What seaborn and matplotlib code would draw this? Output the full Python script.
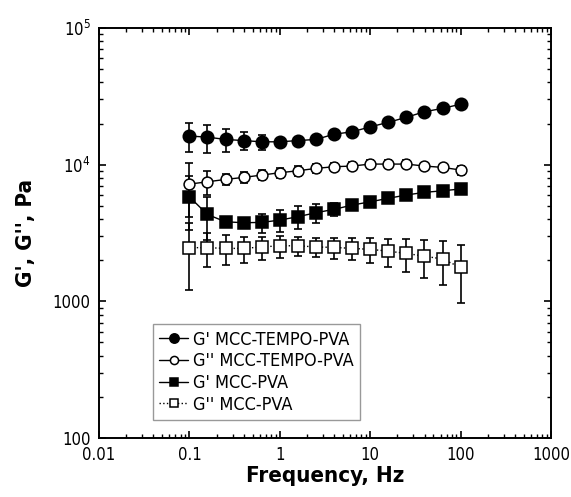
import numpy as np
import pandas as pd
import matplotlib
matplotlib.use("Agg")
import matplotlib.pyplot as plt
import matplotlib.ticker as mticker
import seaborn as sns

# ---- data ----
freq = [0.1, 0.158, 0.251, 0.398, 0.631, 1.0, 1.58, 2.51, 3.98, 6.31,
        10.0, 15.8, 25.1, 39.8, 63.1, 100.0]

g1_tempo = [16200, 15900, 15300, 15000, 14700, 14700, 15000, 15300, 16700, 17400,
            18900, 20400, 22200, 24400, 25800, 27700]
g1_tempo_err = [3900, 3700, 2900, 2300, 1900, 800, 700, 700, 700, 700,
                700, 700, 700, 700, 700, 700]

g2_tempo = [7210, 7490, 7800, 8070, 8390, 8730, 9020, 9390, 9660, 9770,
            10100, 10100, 10100, 9770, 9550, 9140]
g2_tempo_err = [3100, 1500, 700, 700, 700, 700, 700, 700, 700, 700,
                700, 700, 700, 500, 400, 700]

g1_pva = [5820, 4320, 3820, 3760, 3780, 3930, 4160, 4450, 4710, 5060,
          5350, 5670, 6000, 6270, 6440, 6640]
g1_pva_err = [2500, 1500, 300, 300, 600, 700, 800, 700, 500, 400,
              300, 300, 300, 300, 300, 300]

g2_pva = [2470, 2470, 2440, 2440, 2500, 2550, 2550, 2500, 2480, 2440,
          2400, 2330, 2240, 2140, 2040, 1770]
g2_pva_err = [1260, 700, 600, 520, 480, 460, 420, 400, 450, 450,
              500, 550, 600, 650, 720, 800]

labels = ["G' MCC-TEMPO-PVA", "G'' MCC-TEMPO-PVA", "G' MCC-PVA", "G'' MCC-PVA"]

x_ticks = [0.01, 0.1, 1, 10, 100, 1000]
x_ticklabels = ["0.01", "0.1", "1", "10", "100", "1000"]
y_ticks = [100, 1000, 1e4, 1e5]
y_ticklabels = ["100", "1000", r"$10^{4}$", r"$10^{5}$"]

# ---- style ----
sns.set_style("ticks")
plt.rcParams["font.family"] = ["DejaVu Sans"]
plt.rcParams["font.stretch"] = "condensed"
plt.rcParams["mathtext.default"] = "regular"
for k in ["text.color", "axes.labelcolor", "xtick.color", "ytick.color", "axes.edgecolor"]:
    plt.rcParams[k] = "black"

fig = plt.figure(figsize=(5.71, 4.97), dpi=100)
ax = fig.add_axes([99 / 571, 1 - 438 / 497, 452 / 571, 410 / 497])

series = [
    (g1_tempo, g1_tempo_err, labels[0], "o", "black", 9.0, "-"),
    (g2_tempo, g2_tempo_err, labels[1], "o", "white", 7.8, "-"),
    (g1_pva, g1_pva_err, labels[2], "s", "black", 8.6, "-"),
    (g2_pva, g2_pva_err, labels[3], "s", "white", 8.0, ":"),
]

for vals, err, lab, mk, fc, ms, ls in series:
    df = pd.DataFrame({"freq": freq, "val": vals})
    ax.errorbar(freq, vals, yerr=err, fmt="none", ecolor="black",
                elinewidth=1.2, capsize=2.8, capthick=1.2, zorder=2)
    sns.lineplot(data=df, x="freq", y="val", ax=ax, color="black",
                 linestyle=ls, linewidth=1.0, marker=mk, markersize=ms,
                 markerfacecolor=fc, markeredgecolor="black",
                 markeredgewidth=1.1, label=lab, zorder=3)

ax.set_xscale("log")
ax.set_yscale("log")
ax.set_xlim(0.01, 1000)
ax.set_ylim(100, 1e5)

ax.xaxis.set_major_locator(mticker.FixedLocator(x_ticks))
ax.xaxis.set_major_formatter(mticker.FixedFormatter(x_ticklabels))
ax.yaxis.set_major_locator(mticker.FixedLocator(y_ticks))
ax.yaxis.set_major_formatter(mticker.FixedFormatter(y_ticklabels))
ax.xaxis.set_minor_locator(mticker.LogLocator(base=10, subs=np.arange(2, 10)))
ax.yaxis.set_minor_locator(mticker.LogLocator(base=10, subs=np.arange(2, 10)))
ax.xaxis.set_minor_formatter(mticker.NullFormatter())
ax.yaxis.set_minor_formatter(mticker.NullFormatter())

ax.tick_params(which="both", direction="in", top=True, right=True, color="black")
ax.tick_params(which="major", length=5, width=1.2, labelsize=12, pad=6)
ax.tick_params(which="minor", length=3, width=1.0)
for sp in ax.spines.values():
    sp.set_linewidth(1.4)
    sp.set_color("black")

ax.set_xlabel("Frequency, Hz", fontsize=16, fontweight="bold", labelpad=1)
ax.set_ylabel("G', G'', Pa", fontsize=16, fontweight="bold", labelpad=12)

leg = ax.legend(loc="lower left", bbox_to_anchor=(0.119, 0.044),
                borderaxespad=0, frameon=True, fancybox=False,
                fontsize=13, handlelength=1.6, handletextpad=0.3,
                labelspacing=0.2, borderpad=0.35, markerscale=0.75)
leg.get_frame().set_edgecolor("gray")
leg.get_frame().set_linewidth(1.0)

fig.savefig("out.png", dpi=100)
